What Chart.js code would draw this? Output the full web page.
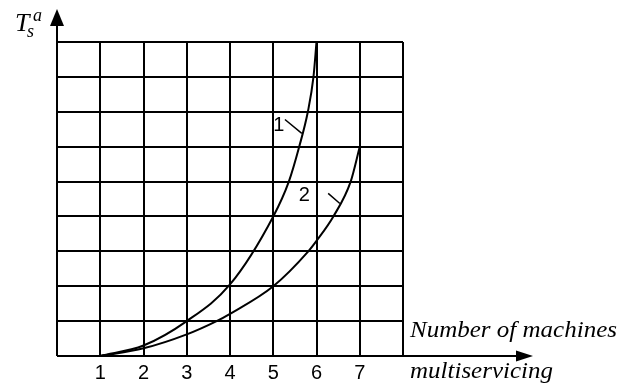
<!DOCTYPE html>
<html>
<head>
<meta charset="utf-8">
<script src="https://cdn.jsdelivr.net/npm/chart.js@4"></script>
<style>
  html, body { margin: 0; padding: 0; background: #fff; }
  #wrap { width: 633px; height: 385px; }
</style>
</head>
<body>
<div id="wrap"><canvas id="grafico"></canvas></div>
<script>
// number of machines on the x axis, T_s^a on the y axis
const xTicks = [1, 2, 3, 4, 5, 6, 7];

const curve1X = [1, 2, 3, 4, 5, 5.36, 5.6, 5.8, 5.93, 6];
const curve1Y = [0, 0.3, 1, 2.05, 4, 5, 6, 7, 8, 9];

const curve2X = [1, 2, 3, 3.69, 4, 5, 5.81, 6, 6.39, 6.79, 7];
const curve2Y = [0, 0.22, 0.62, 1, 1.21, 2, 3, 3.3, 4, 5, 6];

const toPoints = (xs, ys) => xs.map((x, i) => ({ x: x, y: ys[i] }));

// text stretched sideways to a given width
function wideText(ctx, text, x, y, width) {
    const w = ctx.measureText(text).width;
    ctx.save();
    ctx.translate(x, y);
    ctx.scale(width / w, 1);
    ctx.fillText(text, 0, 0);
    ctx.restore();
}

// axes with arrows, axis captions and the curve markers
const extras = {
    id: 'extras',
    afterDraw(chart) {
        const ctx = chart.ctx;
        const a = chart.chartArea;
        const sx = chart.scales.x, sy = chart.scales.y;
        ctx.save();
        ctx.strokeStyle = '#000';
        ctx.fillStyle = '#000';
        ctx.lineWidth = 2;

        // y axis
        ctx.beginPath();
        ctx.moveTo(a.left, a.bottom);
        ctx.lineTo(a.left, 20);
        ctx.stroke();
        ctx.beginPath();
        ctx.moveTo(a.left, 9);
        ctx.lineTo(a.left - 7, 26);
        ctx.lineTo(a.left + 7, 26);
        ctx.closePath();
        ctx.fill();

        // x axis
        ctx.beginPath();
        ctx.moveTo(a.left, a.bottom);
        ctx.lineTo(520, a.bottom);
        ctx.stroke();
        ctx.beginPath();
        ctx.moveTo(533, a.bottom);
        ctx.lineTo(516, a.bottom - 5.5);
        ctx.lineTo(516, a.bottom + 5.5);
        ctx.closePath();
        ctx.fill();

        // T_s^a
        ctx.textBaseline = 'alphabetic';
        ctx.textAlign = 'left';
        ctx.font = 'italic 26px "Liberation Serif"';
        ctx.fillText('T', 15, 31);
        ctx.font = 'italic 18px "Liberation Serif"';
        ctx.fillText('s', 27, 37);
        ctx.fillText('a', 33, 21);

        // x axis caption
        ctx.font = 'italic 24px "Liberation Serif"';
        wideText(ctx, 'Number of machines', 410, 337, 207);
        wideText(ctx, 'multiservicing', 410, 378, 143);

        // curve markers
        ctx.font = '20px "Liberation Sans"';
        ctx.textAlign = 'center';
        ctx.textBaseline = 'middle';
        ctx.fillText('1', sx.getPixelForValue(5.13), sy.getPixelForValue(6.6));
        ctx.fillText('2', sx.getPixelForValue(5.72), sy.getPixelForValue(4.61));
        ctx.lineWidth = 1.5;
        ctx.beginPath();
        ctx.moveTo(sx.getPixelForValue(5.27), sy.getPixelForValue(6.78));
        ctx.lineTo(sx.getPixelForValue(5.66), sy.getPixelForValue(6.38));
        ctx.moveTo(sx.getPixelForValue(6.27), sy.getPixelForValue(4.66));
        ctx.lineTo(sx.getPixelForValue(6.54), sy.getPixelForValue(4.37));
        ctx.stroke();
        ctx.restore();
    }
};

const config = {
    type: 'scatter',
    data: {
        datasets: [
            {
                label: '1',
                data: toPoints(curve1X, curve1Y),
                showLine: true,
                borderColor: '#000',
                borderWidth: 2,
                pointRadius: 0,
                cubicInterpolationMode: 'monotone'
            },
            {
                label: '2',
                data: toPoints(curve2X, curve2Y),
                showLine: true,
                borderColor: '#000',
                borderWidth: 2,
                pointRadius: 0,
                cubicInterpolationMode: 'monotone'
            }
        ]
    },
    options: {
        responsive: true,
        maintainAspectRatio: false,
        animation: false,
        layout: {
            padding: { left: 57, top: 42, right: 230, bottom: 0 }
        },
        plugins: {
            legend: { display: false },
            tooltip: { enabled: false }
        },
        scales: {
            x: {
                type: 'linear',
                min: 0,
                max: 8,
                afterFit: s => { s.height = 29; },
                grid: { color: '#000', lineWidth: 2, tickLength: 0 },
                border: { display: false },
                ticks: {
                    stepSize: 1,
                    padding: 5,
                    color: '#000',
                    font: { family: 'Liberation Sans', size: 20 },
                    callback: v => xTicks.includes(v) ? String(v) : ''
                }
            },
            y: {
                type: 'linear',
                min: 0,
                max: 9,
                afterFit: s => { s.width = 0; },
                grid: { color: '#000', lineWidth: 2, tickLength: 0 },
                border: { display: false },
                ticks: { stepSize: 1, display: false }
            }
        }
    },
    plugins: [extras]
};

new Chart(document.getElementById('grafico'), config);
</script>
</body>
</html>
